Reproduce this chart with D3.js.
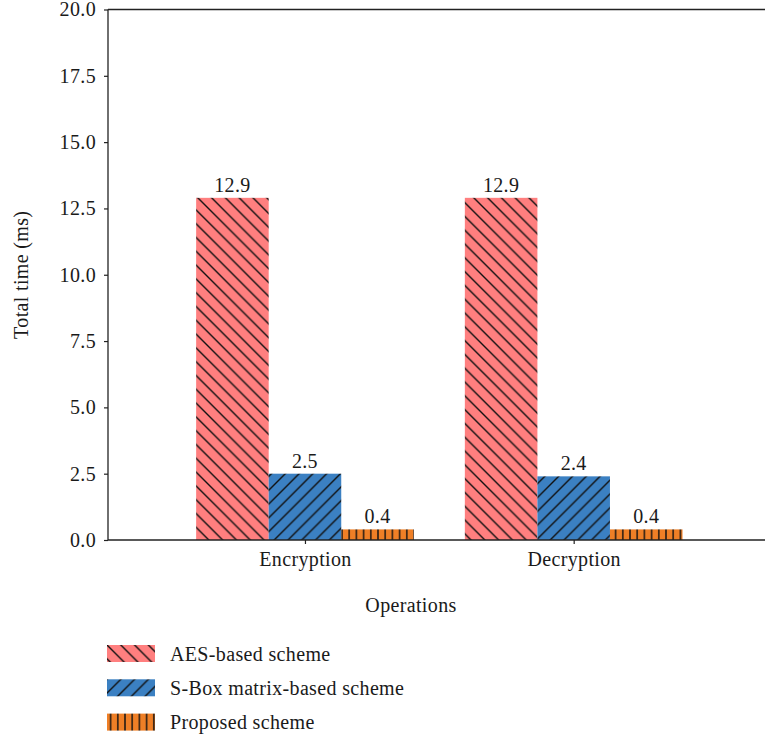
<!DOCTYPE html>
<html>
<head>
<meta charset="utf-8">
<script src="https://cdn.jsdelivr.net/npm/d3@7"></script>
<style>
  html, body { margin: 0; padding: 0; background: #fff; }
  svg text { font-family: "Liberation Serif", "Times New Roman", serif; fill: #1a1a1a; }
</style>
</head>
<body>
<svg id="chart" width="765" height="735"></svg>
<script>
// Operations on the x axis, total time per scheme
const categories = ["Encryption", "Decryption"];
const seriesNames = ["AES-based scheme", "S-Box matrix-based scheme", "Proposed scheme"];
const aesValues = [12.9, 12.9];
const sboxValues = [2.5, 2.4];
const proposedValues = [0.4, 0.4];
const yTickValues = [0, 2.5, 5, 7.5, 10, 12.5, 15, 17.5, 20];

const seriesValues = [aesValues, sboxValues, proposedValues];
const seriesColors = ["#ff7f7f", "#3b80c2", "#ef7f26"];
const seriesHatch = ["back", "fwd", "vert"];

const svg = d3.select("#chart");
const FONT = 20, LS = "0.35px";

const x = d3.scaleLinear().domain([-0.733, 1.712]).range([108, 765]);
const y = d3.scaleLinear().domain([0, 20]).range([540, 9.5]);
const barW = 0.27;

// hatch patterns
const defs = svg.append("defs");
function addPattern(id, color, kind) {
  const s = kind === "vert" ? 7.2 : 13.8;
  const p = defs.append("pattern").attr("id", id)
    .attr("patternUnits", "userSpaceOnUse")
    .attr("width", s).attr("height", s);
  p.append("rect").attr("width", s).attr("height", s).attr("fill", color);
  const line = (x1, y1, x2, y2) => p.append("line")
    .attr("x1", x1).attr("y1", y1).attr("x2", x2).attr("y2", y2)
    .attr("stroke", "#111").attr("stroke-width", 1.4);
  if (kind === "back") {
    line(-1, -1, s + 1, s + 1);
    line(s - 1, -1, s + 1, 1);
    line(-1, s - 1, 1, s + 1);
  } else if (kind === "fwd") {
    line(-1, s + 1, s + 1, -1);
    line(-1, 1, 1, -1);
    line(s - 1, s + 1, s + 1, s - 1);
  } else {
    line(s / 2, 0, s / 2, s);
  }
}
seriesColors.forEach((c, i) => addPattern("hatch" + i, c, seriesHatch[i]));

// bars
const offsets = [-barW, 0, barW];
seriesValues.forEach((vals, si) => {
  const g = svg.append("g");
  g.selectAll("rect").data(vals).join("rect")
    .attr("x", (d, i) => x(i + offsets[si] - barW / 2))
    .attr("width", x(barW) - x(0))
    .attr("y", d => y(d))
    .attr("height", d => y(0) - y(d))
    .attr("fill", `url(#hatch${si})`);
  g.selectAll("text").data(vals).join("text")
    .attr("x", (d, i) => x(i + offsets[si]))
    .attr("y", d => y(d) - 6)
    .attr("text-anchor", "middle")
    .style("font-size", FONT + "px")
    .style("letter-spacing", LS)
    .text(d => d.toFixed(1));
});

// spines
function spineLine(x1, y1, x2, y2) {
  svg.append("line").attr("x1", x1).attr("y1", y1).attr("x2", x2).attr("y2", y2)
    .attr("stroke", "#222").attr("stroke-width", 1.3);
}
spineLine(x.range()[0], y(0), x.range()[1], y(0));
spineLine(x.range()[0], y(20), x.range()[1], y(20));
spineLine(x.range()[0], y(0), x.range()[0], y(20));

// y axis
const yAxis = svg.append("g")
  .attr("transform", `translate(${x.range()[0]},0)`)
  .call(d3.axisLeft(y).tickValues(yTickValues).tickSize(4).tickPadding(8).tickFormat(d3.format(".1f")));
yAxis.select(".domain").remove();
yAxis.selectAll(".tick line").attr("stroke", "#222").attr("stroke-width", 1.2);
yAxis.selectAll(".tick text").style("font-size", FONT + "px").style("letter-spacing", LS)
  .attr("fill", "#1a1a1a").attr("font-family", null);

// x axis
const xAxis = svg.append("g")
  .attr("transform", `translate(0,${y(0)})`)
  .call(d3.axisBottom(x).tickValues([0, 1]).tickSize(4).tickPadding(8)
    .tickFormat(i => categories[i]));
xAxis.select(".domain").remove();
xAxis.selectAll(".tick line").attr("stroke", "#222").attr("stroke-width", 1.2);
xAxis.selectAll(".tick text").style("font-size", FONT + "px").style("letter-spacing", LS)
  .attr("fill", "#1a1a1a").attr("font-family", null);

// axis titles
svg.append("text")
  .attr("transform", `translate(28,${(y(0) + y(20)) / 2}) rotate(-90)`)
  .attr("text-anchor", "middle")
  .style("font-size", FONT + "px").style("letter-spacing", LS)
  .text("Total time (ms)");
svg.append("text")
  .attr("x", 411).attr("y", 612)
  .attr("text-anchor", "middle")
  .style("font-size", FONT + "px").style("letter-spacing", LS)
  .text("Operations");

// legend
const legend = svg.append("g").attr("transform", "translate(107,645)");
const rows = legend.selectAll("g").data(seriesNames).join("g")
  .attr("transform", (d, i) => `translate(0,${i * 34.3})`);
rows.append("rect").attr("width", 48).attr("height", 17)
  .attr("fill", (d, i) => `url(#hatch${i})`);
rows.append("text").attr("x", 63).attr("y", 15.5)
  .style("font-size", FONT + "px").style("letter-spacing", LS)
  .text(d => d);
</script>
</body>
</html>
